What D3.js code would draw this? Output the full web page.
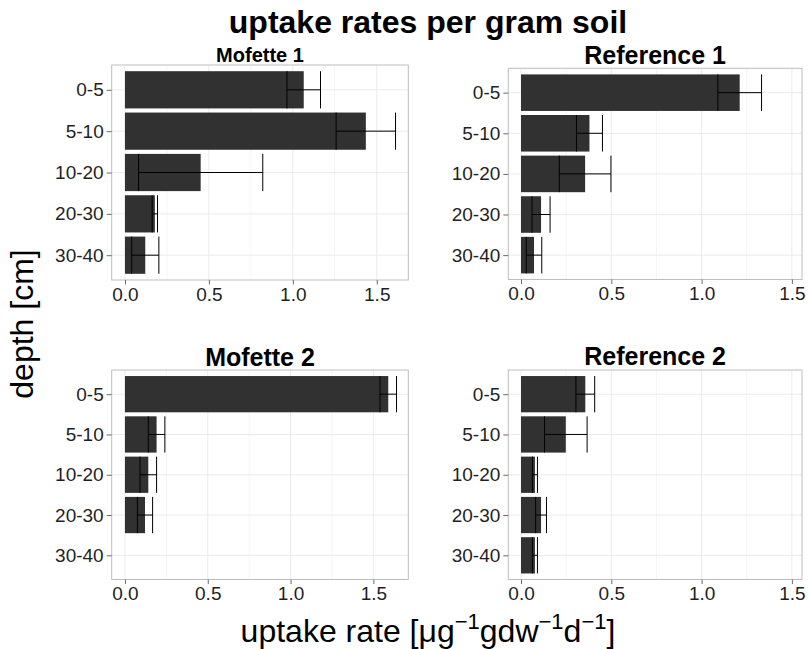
<!DOCTYPE html>
<html>
<head>
<meta charset="utf-8">
<script src="https://cdn.jsdelivr.net/npm/d3@7"></script>
<style>
  body { margin: 0; background: #fff; }
  svg text { font-family: "Liberation Sans", Arial, Helvetica, sans-serif; }
</style>
</head>
<body>
<svg id="chart" width="808" height="649"></svg>
<script>
// depth classes, top to bottom
const depths = ["0-5", "5-10", "10-20", "20-30", "30-40"];
const panelNames = ["Mofette 1", "Reference 1", "Mofette 2", "Reference 2"];

// mean uptake rate and error (half width) per depth
const mofette1Rate = [1.065, 1.435, 0.451, 0.178, 0.121];
const mofette1Err = [0.100, 0.177, 0.370, 0.016, 0.081];
const reference1Rate = [1.211, 0.379, 0.355, 0.111, 0.072];
const reference1Err = [0.121, 0.072, 0.143, 0.050, 0.043];
const mofette2Rate = [1.590, 0.191, 0.141, 0.121, null];
const mofette2Err = [0.050, 0.050, 0.050, 0.046, null];
const reference2Rate = [0.356, 0.248, 0.077, 0.111, 0.077];
const reference2Err = [0.052, 0.118, 0.014, 0.030, 0.014];

const xTicks = [0, 0.5, 1.0, 1.5];
const xMinorTicks = [0.25, 0.75, 1.25];

const rates = [mofette1Rate, reference1Rate, mofette2Rate, reference2Rate];
const errs = [mofette1Err, reference1Err, mofette2Err, reference2Err];

// panel boxes in pixels and the x range each one shows
const layout = [
    {x0: 111.7, x1: 408.3, y0: 65, y1: 280, dom: [-0.079, 1.688], titleSize: 20, titleY: 61.7},
    {x0: 508.3, x1: 802, y0: 68.3, y1: 279.5, dom: [-0.0704, 1.556], titleSize: 25, titleY: 64.3},
    {x0: 111.7, x1: 408.3, y0: 370, y1: 579.5, dom: [-0.080, 1.711], titleSize: 25, titleY: 366},
    {x0: 508.3, x1: 802, y0: 370, y1: 579.5, dom: [-0.0704, 1.556], titleSize: 25, titleY: 365}
];

const svg = d3.select("#chart");

// overall title
svg.append("text")
    .attr("x", 428).attr("y", 33)
    .attr("text-anchor", "middle")
    .style("font-size", "32px").style("font-weight", "bold")
    .text("uptake rates per gram soil");

panelNames.forEach(function(name, p) {
    let L = layout[p];
    let g = svg.append("g");

    let xScale = d3.scaleLinear().domain(L.dom).range([L.x0, L.x1]);
    let yScale = d3.scalePoint().domain(depths).range([L.y0, L.y1]).padding(0.6);
    let barH = yScale.step() * 0.9;

    let rows = depths.map(function(d, i) {
        return {depth: d, rate: rates[p][i], err: errs[p][i]};
    }).filter(d => d.rate !== null);

    // background grid
    g.selectAll(".minor").data(xMinorTicks).enter().append("line")
        .attr("x1", d => xScale(d)).attr("x2", d => xScale(d))
        .attr("y1", L.y0).attr("y2", L.y1)
        .style("stroke", "#f5f5f5").style("stroke-width", 1);
    g.selectAll(".major").data(xTicks).enter().append("line")
        .attr("x1", d => xScale(d)).attr("x2", d => xScale(d))
        .attr("y1", L.y0).attr("y2", L.y1)
        .style("stroke", "#ebebeb").style("stroke-width", 1);
    g.selectAll(".hgrid").data(depths).enter().append("line")
        .attr("x1", L.x0).attr("x2", L.x1)
        .attr("y1", d => yScale(d)).attr("y2", d => yScale(d))
        .style("stroke", "#ebebeb").style("stroke-width", 1);

    // bars
    g.selectAll(".bar").data(rows).enter().append("rect")
        .attr("x", xScale(0))
        .attr("y", d => yScale(d.depth) - barH / 2)
        .attr("width", d => xScale(d.rate) - xScale(0))
        .attr("height", barH)
        .style("fill", "#313131");

    // error bars
    let eb = g.selectAll(".err").data(rows).enter().append("g")
        .style("stroke", "#000").style("stroke-width", 1).style("fill", "none");
    eb.append("line")
        .attr("x1", d => xScale(d.rate - d.err)).attr("x2", d => xScale(d.rate + d.err))
        .attr("y1", d => yScale(d.depth)).attr("y2", d => yScale(d.depth));
    eb.append("line")
        .attr("x1", d => xScale(d.rate - d.err)).attr("x2", d => xScale(d.rate - d.err))
        .attr("y1", d => yScale(d.depth) - barH / 2).attr("y2", d => yScale(d.depth) + barH / 2);
    eb.append("line")
        .attr("x1", d => xScale(d.rate + d.err)).attr("x2", d => xScale(d.rate + d.err))
        .attr("y1", d => yScale(d.depth) - barH / 2).attr("y2", d => yScale(d.depth) + barH / 2);

    // panel border
    g.append("rect")
        .attr("x", L.x0).attr("y", L.y0)
        .attr("width", L.x1 - L.x0).attr("height", L.y1 - L.y0)
        .style("fill", "none").style("stroke", "#bdbdbd").style("stroke-width", 1);

    // axes
    let xAxis = d3.axisBottom(xScale).tickValues(xTicks)
        .tickFormat(d3.format(".1f")).tickSize(4.5).tickPadding(3);
    let xAxisG = g.append("g")
        .attr("transform", "translate(0," + L.y1 + ")")
        .call(xAxis);

    let yAxis = d3.axisLeft(yScale).tickSize(5).tickPadding(3);
    let yAxisG = g.append("g")
        .attr("transform", "translate(" + L.x0 + ",0)")
        .call(yAxis);

    [xAxisG, yAxisG].forEach(function(a) {
        a.select(".domain").remove();
        a.selectAll(".tick line").style("stroke", "#6b6b6b");
        a.selectAll(".tick text")
            .style("font-size", "19px")
            .style("fill", "#1f1f1f")
            .style("font-family", "'Liberation Sans', Arial, Helvetica, sans-serif");
    });

    // panel title
    g.append("text")
        .attr("x", (L.x0 + L.x1) / 2).attr("y", L.titleY)
        .attr("text-anchor", "middle")
        .style("font-size", L.titleSize + "px").style("font-weight", "bold")
        .text(name);
});

// y axis title
svg.append("text")
    .attr("transform", "translate(33,324) rotate(-90)")
    .attr("text-anchor", "middle")
    .style("font-size", "32px")
    .text("depth [cm]");

// x axis title with superscripts
let xt = svg.append("text")
    .attr("x", 428).attr("y", 642)
    .attr("text-anchor", "middle")
    .style("font-size", "32px");
xt.append("tspan").text("uptake rate [\u03bcg");
xt.append("tspan").attr("dy", -13).style("font-size", "22px").text("\u22121");
xt.append("tspan").attr("dy", 13).text("gdw");
xt.append("tspan").attr("dy", -13).style("font-size", "22px").text("\u22121");
xt.append("tspan").attr("dy", 13).text("d");
xt.append("tspan").attr("dy", -13).style("font-size", "22px").text("\u22121");
xt.append("tspan").attr("dy", 13).text("]");
</script>
</body>
</html>
